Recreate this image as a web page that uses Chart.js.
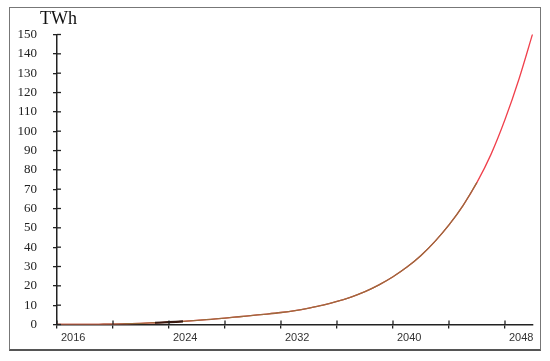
<!DOCTYPE html>
<html><head><meta charset="utf-8">
<script src="https://cdn.jsdelivr.net/npm/chart.js@4"></script>
<style>
html,body{margin:0;padding:0;background:#fff;}
#wrap{position:relative;width:550px;height:361px;}
#frame{position:absolute;left:9px;top:7px;width:530px;height:341px;border:1px solid #777;border-bottom:2px solid #555;pointer-events:none;}
canvas{display:block;}
</style></head><body>
<div id="wrap"><canvas id="c" width="550" height="361"></canvas><div id="frame"></div></div>
<script>
const unitLabel = 'TWh';
const years = [2016,2017,2018,2019,2020,2021,2022,2023,2024,2025,2026,2027,2028,2029,2030,2031,2032,2033,2034,2035,2036,2037,2038,2039,2040,2041,2042,2043,2044,2045,2046,2047,2048,2049,2050];
const demandTWh = [0,0,0,0.1,0.2,0.4,0.6,0.9,1.2,1.6,2.1,2.7,3.3,4.0,4.7,5.4,6.2,7.2,8.5,10.0,11.9,14.2,17.0,20.5,24.7,29.7,35.7,43.0,51.5,61.5,73.5,88.0,106.0,127.0,151.0];
const earlyTrendTWh = [0,0,0,0.1,0.2,0.4,0.6,0.9,1.2,1.6,2.1,2.7,3.3,4.0,4.7,5.4,6.2,7.2,8.5,10.0,11.9,14.2,17.0,20.5,24.7,29.7,35.7,43.0,51.5,61.5,73.5,null,null,null,null];
const nearTermTWh = [null,null,null,null,null,null,null,0.9,1.2,1.6,null,null,null,null,null,null,null,null,null,null,null,null,null,null,null,null,null,null,null,null,null,null,null,null,null];
const yTicks = [0,10,20,30,40,50,60,70,80,90,100,110,120,130,140,150];
const xTickYears = [2016,2020,2024,2028,2032,2036,2040,2044,2048];
const xLabelYears = [2016,2024,2032,2040,2048];

const toPts = arr => years.map((yr,i)=>({x:yr,y:arr[i]}));

const extras = {
  id:'extras',
  afterDraw(chart){
    const {ctx, scales:{x,y}} = chart;
    ctx.save();
    ctx.strokeStyle='#222'; ctx.lineWidth=1.3;
    y.ticks.forEach(t=>{const py=y.getPixelForValue(t.value);ctx.beginPath();ctx.moveTo(y.right,py);ctx.lineTo(y.right+4,py);ctx.stroke();});
    x.ticks.forEach(t=>{const px=x.getPixelForValue(t.value);ctx.beginPath();ctx.moveTo(px,x.top);ctx.lineTo(px,x.top-4);ctx.stroke();});
    ctx.fillStyle='#111';ctx.font='18px "Liberation Serif"';ctx.textAlign='left';ctx.textBaseline='alphabetic';
    ctx.fillText(unitLabel, y.right-17, y.top-10.5);
    ctx.restore();
  }
};

new Chart(document.getElementById('c'),{
  type:'line',
  data:{datasets:[
    {data:toPts(nearTermTWh),borderColor:'#3a1a10',borderWidth:2.2,pointRadius:0,tension:0.4,fill:false,spanGaps:false},
    {data:toPts(earlyTrendTWh),borderColor:'#9a6b3c',borderWidth:1.3,pointRadius:0,tension:0.4,cubicInterpolationMode:'monotone',fill:false,spanGaps:false},
    {data:toPts(demandTWh),borderColor:'#f0404c',borderWidth:1.3,pointRadius:0,tension:0.4,cubicInterpolationMode:'monotone',fill:false}
  ]},
  options:{
    responsive:false,animation:false,
    layout:{padding:{top:34.5,right:17,left:0,bottom:0}},
    plugins:{legend:{display:false},tooltip:{enabled:false},title:{display:false}},
    scales:{
      x:{type:'linear',min:years[0],max:years[years.length-1],
        afterFit:s=>{s.height=36.5;},
        afterBuildTicks:s=>{s.ticks=xTickYears.map(v=>({value:v}));},
        grid:{drawOnChartArea:false,drawTicks:true,tickLength:4,color:'#222',lineWidth:1.3},
        border:{display:true,color:'#222',width:1.5},
        ticks:{autoSkip:false,maxRotation:0,align:'start',labelOffset:4,padding:3,color:'#333',font:{family:'"Liberation Sans"',size:11},
          callback:v=>xLabelYears.includes(v)?String(v):''}
      },
      y:{min:0,max:150,
        afterFit:s=>{s.width=57;},
        afterBuildTicks:s=>{s.ticks=yTicks.map(v=>({value:v}));},
        grid:{drawOnChartArea:false,drawTicks:true,tickLength:4,color:'#222',lineWidth:1.3},
        border:{display:true,color:'#222',width:1.5},
        ticks:{padding:16,color:'#222',font:{family:'"Liberation Serif"',size:13}}
      }
    }
  },
  plugins:[extras]
});
</script>
</body></html>
